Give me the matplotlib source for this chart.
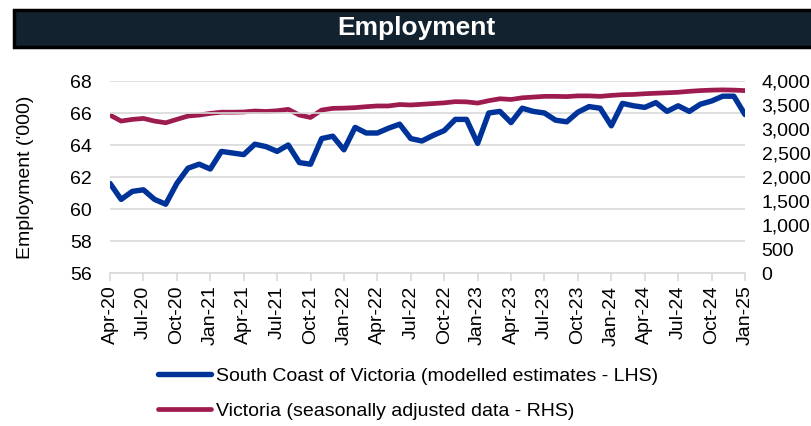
import matplotlib
matplotlib.use("Agg")
import matplotlib.pyplot as plt
from matplotlib.patches import Rectangle
import numpy as np

plt.rcParams['font.family'] = ['Liberation Sans', 'DejaVu Sans']

# Monthly data, Apr-2020 .. Jan-2025
south_coast = [61.6, 60.6, 61.1, 61.2, 60.6, 60.3, 61.6, 62.55, 62.8, 62.5,
               63.6, 63.5, 63.4, 64.05, 63.9, 63.6, 64.0, 62.9, 62.8, 64.4,
               64.55, 63.7, 65.1, 64.75, 64.75, 65.05, 65.3, 64.4, 64.25, 64.6,
               64.9, 65.6, 65.6, 64.1, 66.0, 66.1, 65.4, 66.3, 66.1, 66.0,
               65.55, 65.45, 66.05, 66.4, 66.3, 65.2, 66.6, 66.45, 66.35, 66.65,
               66.1, 66.45, 66.1, 66.55, 66.75, 67.05, 67.05, 65.9]
victoria = [3290, 3165, 3200, 3220, 3165, 3130, 3200, 3270, 3290, 3325,
            3350, 3350, 3355, 3375, 3365, 3380, 3410, 3290, 3240, 3395,
            3430, 3435, 3445, 3465, 3480, 3480, 3510, 3500, 3515, 3530,
            3545, 3570, 3565, 3540, 3590, 3630, 3615, 3650, 3665, 3680,
            3680, 3675, 3690, 3690, 3680, 3700, 3715, 3720, 3735, 3745,
            3755, 3765, 3785, 3800, 3810, 3815, 3810, 3800]
tick_labels = ['Apr-20', 'Jul-20', 'Oct-20', 'Jan-21', 'Apr-21', 'Jul-21', 'Oct-21',
               'Jan-22', 'Apr-22', 'Jul-22', 'Oct-22', 'Jan-23', 'Apr-23', 'Jul-23',
               'Oct-23', 'Jan-24', 'Apr-24', 'Jul-24', 'Oct-24', 'Jan-25']
left_ticks = [56, 58, 60, 62, 64, 66, 68]
right_ticks = [0, 500, 1000, 1500, 2000, 2500, 3000, 3500, 4000]

BLUE = '#003399'
RED = '#9e1b4f'
GRID = '#d9d9d9'

months = np.arange(len(south_coast))

fig = plt.figure(figsize=(8.11, 4.26), dpi=100)
ax = fig.add_axes([110 / 811, 1 - 273 / 426, 635 / 811, 192 / 426])
ax2 = ax.twinx()

# title banner
fig.patches.append(Rectangle((14 / 811, 1 - 47 / 426), 1.0, 37 / 426,
                             transform=fig.transFigure, facecolor='#13222f',
                             edgecolor='black', linewidth=2.5, zorder=0))
fig.text(416 / 811, 1 - 28 / 426, 'Employment', color='white', fontsize=19,
         fontweight='bold', ha='center', va='center')

l2, = ax2.plot(months, victoria, color=RED, linewidth=3.4, solid_capstyle='round',
               label='Victoria (seasonally adjusted data - RHS)')
l1, = ax.plot(months, south_coast, color=BLUE, linewidth=3.9, solid_capstyle='round',
              label='South Coast of Victoria (modelled estimates - LHS)')
ax.set_zorder(ax2.get_zorder() + 1)
ax.patch.set_visible(False)

ax.set_xlim(0, len(south_coast) - 1)
ax.set_ylim(56, 68)
ax2.set_ylim(0, 4000)
ax.set_yticks(left_ticks)
ax2.set_yticks(right_ticks)
ax2.set_yticklabels([f'{v:,}' for v in right_ticks])
ax.set_xticks(np.arange(0, len(south_coast), 3))
ax.set_xticklabels(tick_labels, rotation=90)

ax.grid(axis='y', color=GRID, linewidth=1.2)
ax.set_axisbelow(True)
for a in (ax, ax2):
    for s in ('top', 'right', 'left'):
        a.spines[s].set_visible(False)
    a.spines['bottom'].set_color(GRID)
    a.spines['bottom'].set_linewidth(1.2)
ax2.spines['bottom'].set_visible(False)

ax.tick_params(axis='y', length=0, pad=13, labelsize=14)
ax2.tick_params(axis='y', length=0, pad=12, labelsize=14)
ax.tick_params(axis='x', length=6, width=1.2, color=GRID, pad=3, labelsize=14)

ax.set_ylabel("Employment ('000)", fontsize=14, labelpad=26)

fig.legend(handles=[l1, l2], loc='upper left', bbox_to_anchor=(158 / 811, 1 - 367 / 426),
           frameon=False, fontsize=14, handlelength=2.7, handletextpad=0.3,
           labelspacing=0.9, borderpad=0, borderaxespad=0)

fig.savefig('out.png', dpi=100)
